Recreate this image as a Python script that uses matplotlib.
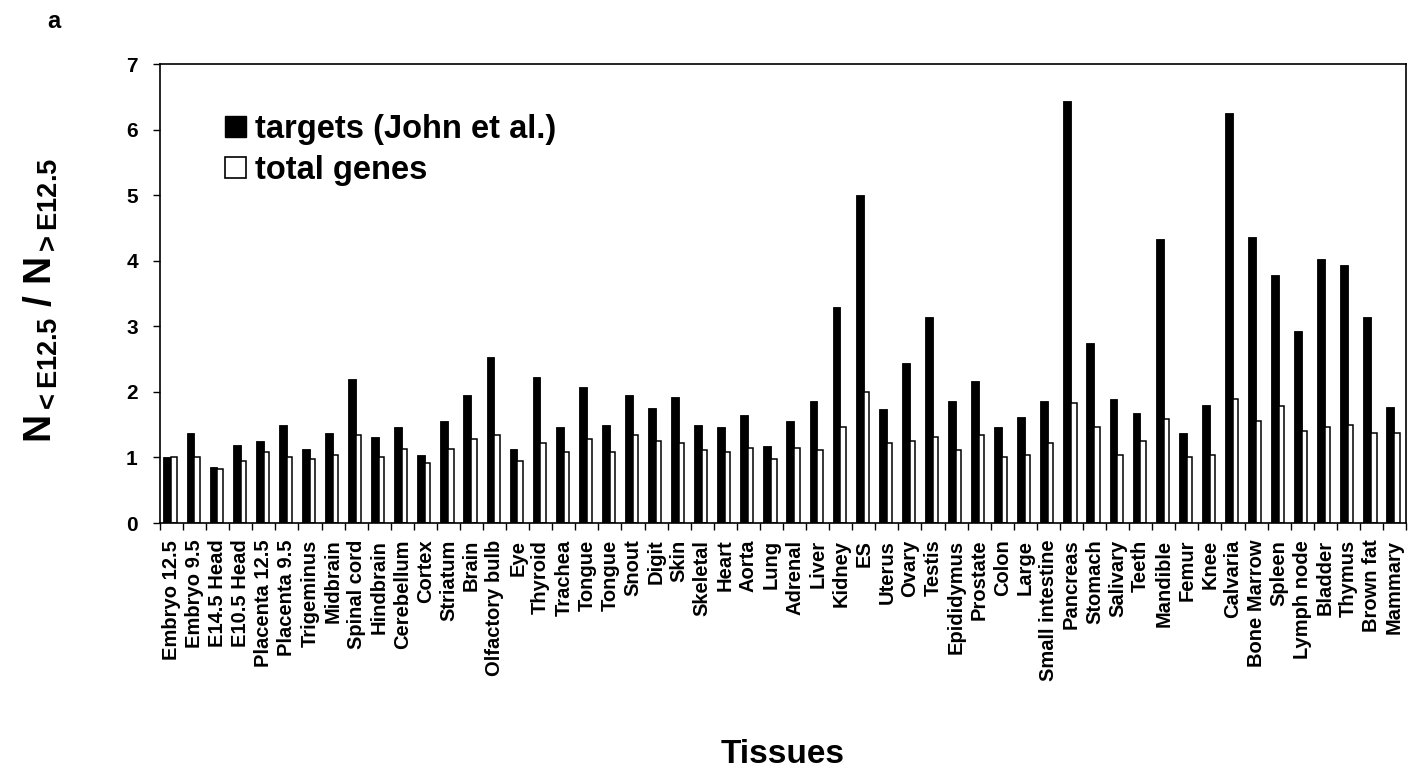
import numpy as np
import matplotlib
matplotlib.use("Agg")
import matplotlib.pyplot as plt
from matplotlib.patches import Patch

plt.rcParams["font.family"] = ["Liberation Sans", "DejaVu Sans"]
plt.rcParams["font.weight"] = "bold"
plt.rcParams["mathtext.fontset"] = "custom"
plt.rcParams["mathtext.rm"] = "Liberation Sans:bold"
plt.rcParams["mathtext.bf"] = "Liberation Sans:bold"
plt.rcParams["mathtext.it"] = "Liberation Sans:bold"

tissues = [
    "Embryo 12.5", "Embryo 9.5", "E14.5 Head", "E10.5 Head", "Placenta 12.5",
    "Placenta 9.5", "Trigeminus", "Midbrain", "Spinal cord", "Hindbrain",
    "Cerebellum", "Cortex", "Striatum", "Brain", "Olfactory bulb", "Eye",
    "Thyroid", "Trachea", "Tongue", "Tongue", "Snout", "Digit", "Skin",
    "Skeletal", "Heart", "Aorta", "Lung", "Adrenal", "Liver", "Kidney", "ES",
    "Uterus", "Ovary", "Testis", "Epididymus", "Prostate", "Colon", "Large",
    "Small intestine", "Pancreas", "Stomach", "Salivary", "Teeth", "Mandible",
    "Femur", "Knee", "Calvaria", "Bone Marrow", "Spleen", "Lymph node",
    "Bladder", "Thymus", "Brown fat", "Mammary",
]

# ratio of early vs late genes, miRNA targets
targets = [
    1.00, 1.37, 0.86, 1.19, 1.25, 1.49, 1.13, 1.37, 2.19, 1.31,
    1.46, 1.03, 1.56, 1.95, 2.53, 1.13, 2.22, 1.46, 2.07, 1.49,
    1.95, 1.76, 1.92, 1.49, 1.46, 1.64, 1.18, 1.56, 1.86, 3.29,
    5.00, 1.74, 2.44, 3.14, 1.86, 2.17, 1.46, 1.62, 1.86, 6.44,
    2.75, 1.89, 1.68, 4.33, 1.37, 1.80, 6.25, 4.36, 3.78, 2.93,
    4.03, 3.93, 3.14, 1.77,
]

# same ratio over all genes
total_genes = [
    1.00, 1.00, 0.82, 0.94, 1.09, 1.00, 0.97, 1.03, 1.34, 1.00,
    1.13, 0.91, 1.13, 1.28, 1.34, 0.94, 1.22, 1.09, 1.28, 1.09,
    1.34, 1.25, 1.22, 1.12, 1.09, 1.15, 0.97, 1.15, 1.12, 1.46,
    2.00, 1.22, 1.25, 1.31, 1.12, 1.34, 1.00, 1.03, 1.22, 1.83,
    1.46, 1.03, 1.25, 1.58, 1.00, 1.03, 1.89, 1.56, 1.79, 1.40,
    1.46, 1.49, 1.37, 1.37,
]

y_ticks = [0, 1, 2, 3, 4, 5, 6, 7]

x = np.arange(len(tissues))

fig = plt.figure(figsize=(14.12, 7.79), dpi=100)
ax = fig.add_axes([0.1133, 0.3286, 0.8825, 0.5892])

ax.bar(x - 0.18, targets, width=0.34, color="black", edgecolor="black", linewidth=0.6)
ax.bar(x + 0.105, total_genes, width=0.23, color="white", edgecolor="black", linewidth=1.1)

ax.set_xlim(-0.5, len(tissues) - 0.5)
ax.set_ylim(0, 7)

for side in ax.spines.values():
    side.set_linewidth(1.2)

ax.set_yticks(y_ticks)
ax.set_yticklabels([str(t) for t in y_ticks], fontsize=15, fontweight="bold")
ax.tick_params(axis="y", direction="out", length=5, width=1, pad=11)

ax.set_xticks(x)
ax.set_xticklabels(tissues, rotation=90, fontsize=14.5, fontweight="bold",
                   va="top", ha="center")
ax.set_xticks(np.arange(-0.5, len(tissues), 1), minor=True)
ax.tick_params(axis="x", which="major", length=0, pad=12)
ax.tick_params(axis="x", which="minor", direction="out", length=5, width=1)

handles = [
    Patch(facecolor="black", edgecolor="black", linewidth=1),
    Patch(facecolor="white", edgecolor="black", linewidth=1.2),
]
ax.legend(handles, ["targets (John et al.)", "total genes"],
          loc="upper left", bbox_to_anchor=(0.042, 0.92), frameon=False,
          prop={"size": 23.5, "weight": "bold"}, handlelength=0.62,
          handleheight=0.62, handletextpad=0.3, labelspacing=0.3,
          borderaxespad=0)

fig.text(0.029, 0.614, r"$\mathregular{N_{<E12.5}}$ / $\mathregular{N_{>E12.5}}$",
         rotation=90, ha="center", va="center", fontsize=28, fontweight="bold")
fig.text(0.5545, 0.032, "Tissues", ha="center", va="center",
         fontsize=24, fontweight="bold")
fig.text(0.038, 0.973, "a", ha="center", va="center", fontsize=17, fontweight="bold")

fig.savefig("out.png", dpi=100)
plt.close(fig)
